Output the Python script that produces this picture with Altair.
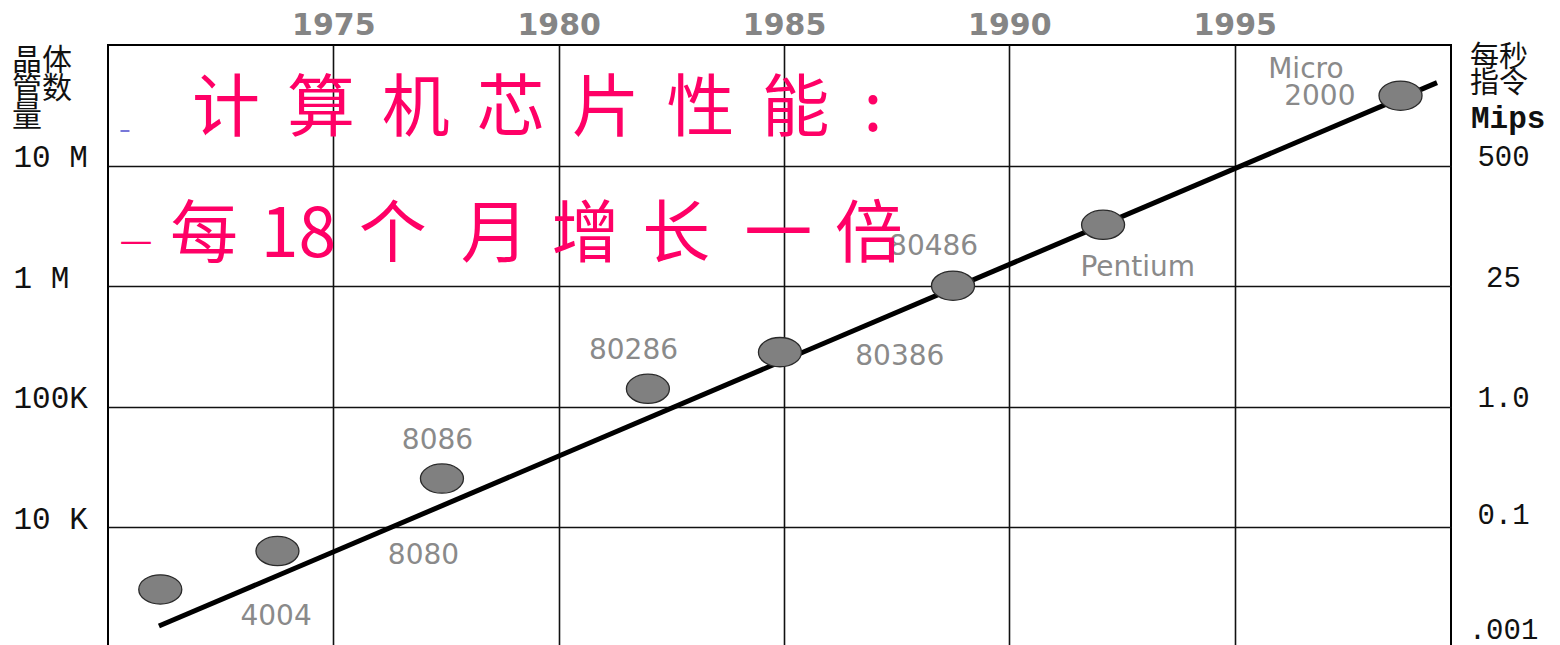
import altair as alt
import pandas as pd

# chips (points)
chip_year = [1971.16, 1973.76, 1977.41, 1981.98, 1984.91, 1988.75, 1992.08, 1998.68]
chip_count = [3060, 6370, 25400, 141000, 284000, 1010000, 3230000, 38000000]

# labels
label_text = ["4004", "8080", "8086", "80286", "80386", "80486", "Pentium", "Micro", "2000"]
label_year = [1973.73, 1977.00, 1977.31, 1981.66, 1987.57, 1988.32, 1992.85, 1996.58, 1996.89]
label_value = [1795, 5750, 51600, 287700, 256600, 2094000, 1403000, 62500000, 37000000]

# trend line
trend_year = [1971.13, 1999.49]
trend_value = [1520, 48800000]

year_ticks = [1975, 1980, 1985, 1990, 1995]
left_ticks = [10000000, 1000000, 100000, 10000]
left_labels = ["10 M", "1  M", "100K", "10 K"]
right_ticks = [10000000, 1000000, 100000, 10000, 1000]
right_labels = ["500", "25", "1.0", "0.1", ".001"]

S = "\u2004"
H = "\u200A"
T = "\u2006"
title1 = (S + H).join(list("计算机芯片性能")) + S + T + ":"
title2 = "每" + S + "18" + S + "个" + S + T + "月" + S + "增" + S + "长" + S + T + "一" + S + "倍"

pts = pd.DataFrame({"year": chip_year, "value": chip_count})
labs = pd.DataFrame({"year": label_year, "value": label_value, "text": label_text})
trend = pd.DataFrame({"year": trend_year, "value": trend_value})

xscale = alt.Scale(domain=[1970, 1999.8], nice=False, zero=False)
yscale = alt.Scale(type="log", domain=[1000, 100000000], nice=False)


def expr_map(vals, labels):
    parts = []
    for v, l in zip(vals, labels):
        parts.append(f"datum.value == {v} ? '{l}'")
    return " : ".join(parts) + " : ''"


x_enc = alt.X(
    "year:Q",
    scale=xscale,
    axis=alt.Axis(
        orient="top",
        values=year_ticks,
        title=None,
        grid=True,
        gridColor="#111111",
        gridWidth=1.6,
        ticks=False,
        tickSize=0,
        domain=False,
        labelFont="DejaVu Sans",
        labelFontWeight="bold",
        labelFontSize=30,
        labelColor="#858585",
        labelPadding=11,
        labelBaseline="alphabetic",
        format="d",
    ),
)

y_left = alt.Y(
    "value:Q",
    scale=yscale,
    axis=alt.Axis(
        orient="left",
        values=left_ticks,
        labelExpr=expr_map(left_ticks, left_labels),
        title=None,
        grid=True,
        gridColor="#111111",
        gridWidth=1.6,
        ticks=False,
        tickSize=0,
        domain=False,
        labelFont="Liberation Mono",
        labelFontSize=31,
        labelColor="#111111",
        labelAlign="left",
        labelBaseline="middle",
        labelPadding=95,
        labelOffset=-8,
    ),
)

y_right = alt.Y(
    "value:Q",
    scale=yscale,
    axis=alt.Axis(
        orient="right",
        values=right_ticks,
        labelExpr=expr_map(right_ticks, right_labels),
        title=None,
        grid=False,
        ticks=False,
        tickSize=0,
        domain=False,
        labelFont="Liberation Mono",
        labelFontSize=29,
        labelColor="#111111",
        labelAlign="center",
        labelBaseline="middle",
        labelPadding=52,
        labelOffset={
            "condition": [
                {"test": "datum.value == 1000", "value": -19},
                {"test": "datum.value == 10000", "value": -13},
            ],
            "value": -9,
        },
    ),
)

line = alt.Chart(trend).mark_line(color="black", strokeWidth=5).encode(
    x=x_enc, y=y_right
)

ellipse = "M -1 0 A 1 0.68 0 1 1 1 0 A 1 0.68 0 1 1 -1 0 Z"
points = alt.Chart(pts).mark_point(
    shape=ellipse, size=1850, filled=True, fill="#808080", stroke="#2a2a2a",
    strokeWidth=1.3, opacity=1
).encode(x=alt.X("year:Q", scale=xscale), y=y_left)

labels = alt.Chart(labs).mark_text(
    font="DejaVu Sans", fontSize=28, color="#8a8a8a", align="center", baseline="middle"
).encode(
    x=alt.X("year:Q", scale=xscale),
    y=alt.Y("value:Q", scale=yscale, axis=None),
    text="text:N",
)

one = pd.DataFrame({"a": [0]})


def txt(s, x, y, **kw):
    return alt.Chart(one).mark_text(text=s, **kw).encode(x=alt.value(x), y=alt.value(y))


t1 = txt(title1, 84, 66, font="Noto Sans CJK SC", fontSize=68, color="#FF0066",
         align="left", baseline="middle")
t2a = txt("—", 11.5, 197, font="Noto Sans CJK SC", fontSize=37, color="#FF0066",
          align="left", baseline="middle")
t2 = txt(title2, 62, 192, font="Noto Sans CJK SC", fontSize=68, color="#FF0066",
         align="left", baseline="middle")
lt = txt("晶体\n管数\n量", -96, 1, font="Noto Sans CJK SC", fontSize=30, lineHeight=28,
         lineBreak="\n", color="#111111", align="left", baseline="top")
rt = txt("每秒\n指令", 1362, -1, font="Noto Sans CJK SC", fontSize=29, lineHeight=26,
         lineBreak="\n", color="#111111", align="left", baseline="top")
mips = txt("Mips", 1363, 74, font="Liberation Mono", fontSize=31, fontWeight="bold",
           color="#111111", align="left", baseline="middle")
dash = alt.Chart(one).mark_rule(color="#4a4acc", strokeWidth=1.5).encode(
    x=alt.value(12.5), x2=alt.value(21.5), y=alt.value(86)
)

chart = (
    alt.layer(line, points, labels, t1, t2a, t2, lt, rt, mips, dash)
    .resolve_axis(y="independent")
    .properties(
        width=1343,
        height=603,
        autosize=alt.AutoSizeParams(type="none"),
        padding={"left": 100, "top": 37, "right": 100, "bottom": 0},
        background="white",
    )
    .configure_view(stroke="black", strokeWidth=2)
)

chart.save("out.html", embed_options={"renderer": "svg", "actions": False})
